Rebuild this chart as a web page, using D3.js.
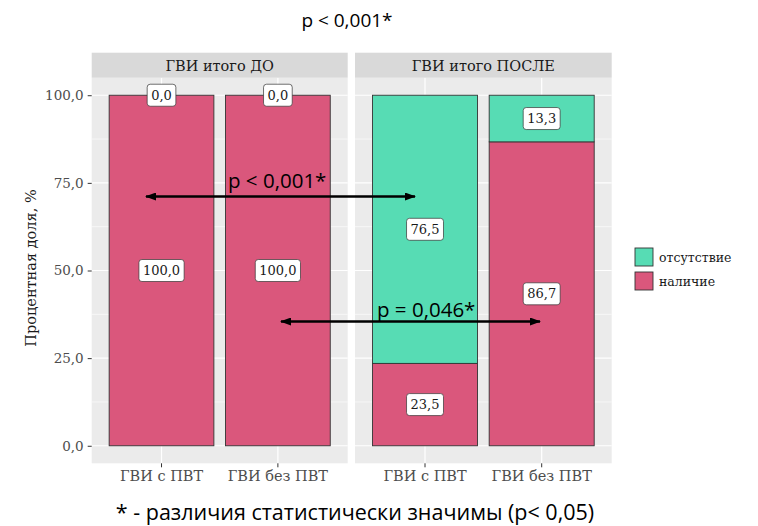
<!DOCTYPE html>
<html>
<head>
<meta charset="utf-8">
<script src="https://cdn.jsdelivr.net/npm/d3@7"></script>
<style>
  html, body { margin: 0; padding: 0; background: #ffffff; }
  svg { display: block; }
</style>
</head>
<body>
<svg id="chart" width="758" height="526"></svg>
<script>
// Facet panels (before / after) and the bar categories inside each panel
const panels = ["ГВИ итого ДО", "ГВИ итого ПОСЛЕ"];
const categories = ["ГВИ с ПВТ", "ГВИ без ПВТ"];

// Percentage shares per panel, one entry per category
const presence = [[100.0, 100.0], [23.5, 86.7]];   // наличие
const absence  = [[0.0, 0.0], [76.5, 13.3]];       // отсутствие

const seriesNames = ["наличие", "отсутствие"];
const legendOrder = ["отсутствие", "наличие"];
const yTicks = [0, 25, 50, 75, 100];
const yMinor = [12.5, 37.5, 62.5, 87.5];

const titleText = "p < 0,001*";
const yTitle = "Процентная доля, %";
const footnote = "* - различия статистически значимы (p< 0,05)";
const comparisons = ["p < 0,001*", "p = 0,046*"];

const colors = { "наличие": "#da577c", "отсутствие": "#57dcb4" };
const serif = "'DejaVu Serif', serif";
const sans = "'Open Sans', sans-serif";
const fmt = v => d3.format(".1f")(v).replace(".", ",");

const svg = d3.select("#chart");

const panelTop = 77.7, panelBottom = 463.3;
const stripTop = 52.7;
const panelX = [[91.7, 347.7], [355, 611.7]];

const y = d3.scaleLinear().domain([-5, 105]).range([panelBottom, panelTop]);

panels.forEach((pName, pi) => {
  const [x0, x1] = panelX[pi];
  const x = d3.scaleBand().domain(categories).range([x0, x1])
    .paddingInner(0.1).paddingOuter(0.15);
  const g = svg.append("g");

  // panel background
  g.append("rect").attr("x", x0).attr("y", panelTop)
    .attr("width", x1 - x0).attr("height", panelBottom - panelTop)
    .attr("fill", "#ebebeb");

  // grid
  g.selectAll(".minor").data(yMinor).join("line")
    .attr("x1", x0).attr("x2", x1)
    .attr("y1", d => y(d)).attr("y2", d => y(d))
    .attr("stroke", "#ffffff").attr("stroke-width", 0.6);
  g.selectAll(".major").data(yTicks).join("line")
    .attr("x1", x0).attr("x2", x1)
    .attr("y1", d => y(d)).attr("y2", d => y(d))
    .attr("stroke", "#ffffff").attr("stroke-width", 1.2);
  g.selectAll(".vgrid").data(categories).join("line")
    .attr("x1", d => x(d) + x.bandwidth() / 2).attr("x2", d => x(d) + x.bandwidth() / 2)
    .attr("y1", panelTop).attr("y2", panelBottom)
    .attr("stroke", "#ffffff").attr("stroke-width", 1.2);

  // strip
  svg.append("rect").attr("x", x0).attr("y", stripTop)
    .attr("width", x1 - x0).attr("height", panelTop - stripTop)
    .attr("fill", "#d9d9d9");
  svg.append("text").attr("x", (x0 + x1) / 2).attr("y", 70.5)
    .attr("text-anchor", "middle").attr("font-family", serif)
    .attr("font-size", 14.5).attr("fill", "#1a1a1a").text(pName);

  // stacked bars: наличие at the bottom, отсутствие above it
  const rows = categories.map((c, ci) => ({ cat: c, "наличие": presence[pi][ci], "отсутствие": absence[pi][ci] }));
  const stacked = d3.stack().keys(seriesNames)(rows);

  stacked.forEach(layer => {
    g.selectAll(null).data(layer).join("rect")
      .attr("x", d => x(d.data.cat))
      .attr("width", x.bandwidth())
      .attr("y", d => y(d[1]))
      .attr("height", d => y(d[0]) - y(d[1]))
      .attr("fill", colors[layer.key])
      .attr("stroke", "#333333").attr("stroke-width", 0.9);
  });

  // value labels
  stacked.forEach(layer => {
    layer.forEach(d => {
      const v = d.data[layer.key];
      const cx = x(d.data.cat) + x.bandwidth() / 2;
      const cy = y((d[0] + d[1]) / 2);
      const lg = g.append("g");
      const t = lg.append("text").attr("x", cx).attr("y", cy)
        .attr("text-anchor", "middle").attr("dominant-baseline", "central")
        .attr("font-family", serif).attr("font-size", 13)
        .attr("fill", "#1a1a1a").text(fmt(v));
      const bb = t.node().getBBox();
      lg.insert("rect", "text")
        .attr("x", cx - bb.width / 2 - 4).attr("y", cy - 11)
        .attr("width", bb.width + 8).attr("height", 22)
        .attr("rx", 3).attr("ry", 3)
        .attr("fill", "#ffffff").attr("stroke", "#333333").attr("stroke-width", 0.7);
    });
  });

  // x axis
  const xa = svg.append("g").attr("transform", `translate(0,${panelBottom})`)
    .call(d3.axisBottom(x).tickSize(4).tickPadding(3));
  xa.select(".domain").remove();
  xa.selectAll(".tick line").attr("stroke", "#333333").attr("stroke-width", 1);
  xa.selectAll(".tick text").attr("font-family", serif).attr("font-size", 14.5)
    .attr("fill", "#4d4d4d");
});

// y axis
const ya = svg.append("g").attr("transform", `translate(${panelX[0][0]},0)`)
  .call(d3.axisLeft(y).tickValues(yTicks).tickFormat(fmt).tickSize(4).tickPadding(4));
ya.select(".domain").remove();
ya.selectAll(".tick line").attr("stroke", "#333333").attr("stroke-width", 1);
ya.selectAll(".tick text").attr("font-family", serif).attr("font-size", 13.5)
  .attr("fill", "#4d4d4d");

// y title
svg.append("text")
  .attr("transform", `translate(36,268) rotate(-90)`)
  .attr("text-anchor", "middle").attr("font-family", serif)
  .attr("font-size", 14.5).attr("fill", "#1a1a1a").text(yTitle);

// legend
legendOrder.forEach((name, i) => {
  const ly = 248 + i * 24;
  svg.append("rect").attr("x", 635).attr("y", ly).attr("width", 18).attr("height", 18)
    .attr("fill", colors[name]).attr("stroke", "#333333").attr("stroke-width", 0.9);
  svg.append("text").attr("x", 659).attr("y", ly + 9)
    .attr("dominant-baseline", "central").attr("font-family", serif)
    .attr("font-size", 12.5).attr("fill", "#1a1a1a").text(name);
});

// title and footnote
svg.append("text").attr("x", 347).attr("y", 27).attr("text-anchor", "middle")
  .attr("font-family", sans).attr("font-size", 19).attr("fill", "#000").text(titleText);
svg.append("text").attr("x", 355).attr("y", 520).attr("text-anchor", "middle")
  .attr("font-family", sans).attr("font-size", 21.5).attr("fill", "#000").text(footnote);

// comparison arrows
const defs = svg.append("defs");
defs.append("marker").attr("id", "head").attr("viewBox", "0 0 11 8")
  .attr("refX", 10).attr("refY", 4).attr("markerWidth", 11).attr("markerHeight", 8)
  .attr("markerUnits", "userSpaceOnUse").attr("orient", "auto-start-reverse")
  .append("path").attr("d", "M0,0 L11,4 L0,8 Z").attr("fill", "#000");

const arrows = [
  { x1: 146, x2: 415, y: 196.5, tx: 228, ty: 188 },
  { x1: 281, x2: 540, y: 321.5, tx: 377, ty: 317 }
];
arrows.forEach((a, i) => {
  svg.append("line").attr("x1", a.x1).attr("x2", a.x2).attr("y1", a.y).attr("y2", a.y)
    .attr("stroke", "#000").attr("stroke-width", 2.5)
    .attr("marker-start", "url(#head)").attr("marker-end", "url(#head)");
  svg.append("text").attr("x", a.tx).attr("y", a.ty)
    .attr("font-family", sans).attr("font-size", 20.5).attr("fill", "#000")
    .text(comparisons[i]);
});
</script>
</body>
</html>
